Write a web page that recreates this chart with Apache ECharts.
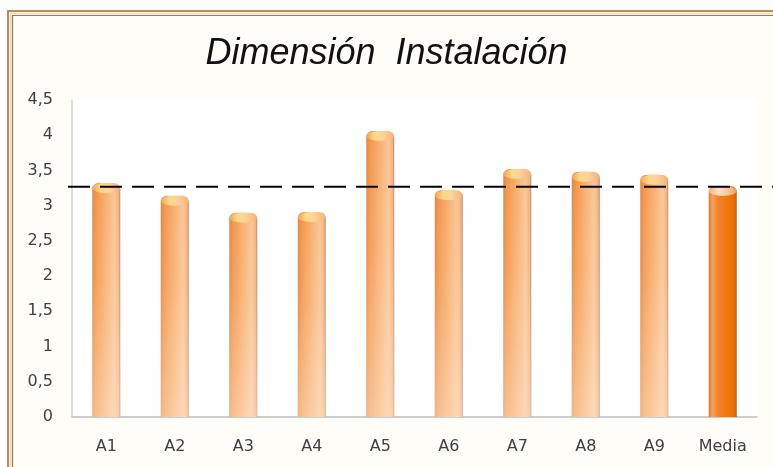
<!DOCTYPE html>
<html>
<head>
<meta charset="utf-8">
<script src="https://cdn.jsdelivr.net/npm/echarts@6/dist/echarts.min.js"></script>
<style>
  html, body { margin: 0; padding: 0; background: #ffffff; }
  #chart { width: 773px; height: 467px; }
</style>
</head>
<body>
<div id="chart"></div>
<script>
// Category labels along the x axis
var categories = ['A1', 'A2', 'A3', 'A4', 'A5', 'A6', 'A7', 'A8', 'A9', 'Media'];
// Scores for each item A1..A9
var itemScores = [3.32, 3.14, 2.90, 2.91, 4.06, 3.22, 3.52, 3.48, 3.44];
// Overall average bar
var mediaScore = 3.28;
// Dashed reference line level
var referenceLevel = 3.27;
// Y axis range and step
var yMin = 0, yMax = 4.5, yStep = 0.5;

var labelFont = 'DejaVu Sans';
var labelColor = '#404040';

function grad(stops, vertical) {
  return new echarts.graphic.LinearGradient(0, 0, vertical ? 0 : 1, vertical ? 1 : 0,
    stops.map(function (s) { return { offset: s[0], color: s[1] }; }));
}

var itemFill = grad([[0, '#d8884a'], [0.12, '#f39448'], [0.45, '#f8ad6c'], [0.8, '#fbc595'], [0.94, '#f0b283'], [1, '#b98357']]);
var mediaFill = grad([[0, '#d97528'], [0.12, '#f7a15c'], [0.35, '#f28226'], [0.75, '#ee7407'], [0.94, '#e06a06'], [1, '#b3571a']]);
var itemCap = grad([[0, '#f0a256'], [0.3, '#ffd98a'], [0.6, '#fcd29a'], [1, '#f2b27a']]);
var mediaCap = grad([[0, '#f4b07a'], [0.35, '#fde0c4'], [0.7, '#f9c69a'], [1, '#e99b5e']]);

var allValues = itemScores.concat([mediaScore]);
var barData = allValues.map(function (v, i) {
  var isMedia = i === allValues.length - 1;
  return { value: v, itemStyle: { color: isMedia ? mediaFill : itemFill } };
});
var shadeData = allValues.map(function (v, i) {
  var isMedia = i === allValues.length - 1;
  return {
    value: v,
    itemStyle: {
      color: isMedia ? 'rgba(255,255,255,0)' :
        grad([[0, 'rgba(255,255,255,0)'], [0.4, 'rgba(255,240,225,0.12)'], [1, 'rgba(255,240,225,0.45)']], true)
    }
  };
});
var capData = allValues.map(function (v, i) {
  var isMedia = i === allValues.length - 1;
  return { value: v, itemStyle: { color: isMedia ? mediaCap : itemCap } };
});

var chart = echarts.init(document.getElementById('chart'), null, { renderer: 'canvas' });

chart.setOption({
  animation: false,
  backgroundColor: '#ffffff',
  graphic: [
    // chart frame: cream panel with a double brown edge
    { type: 'rect', z: -10, shape: { x: 8, y: 11, width: 800, height: 500 },
      style: { fill: '#fffdf8', stroke: '#b98a60', lineWidth: 2 } },
    { type: 'rect', z: -9, shape: { x: 10.5, y: 13.5, width: 800, height: 500 },
      style: { fill: null, stroke: '#f3d9b5', lineWidth: 1.5 } },
    { type: 'rect', z: -9, shape: { x: 12.5, y: 15.5, width: 800, height: 500 },
      style: { fill: null, stroke: '#9c7250', lineWidth: 1.2 } }
  ],
  title: {
    text: 'Dimensión  Instalación',
    left: 'center',
    top: 31,
    textStyle: {
      fontFamily: 'Liberation Sans',
      fontStyle: 'italic',
      fontWeight: 'normal',
      fontSize: 36,
      color: '#111111'
    }
  },
  grid: [
    { left: 72, right: 16, top: 100, bottom: 50, show: true, backgroundColor: '#ffffff', borderWidth: 0 },
    { left: 68, right: 0, top: 100, bottom: 50 }
  ],
  xAxis: [
    {
      type: 'category', gridIndex: 0, data: categories,
      axisLine: { lineStyle: { color: '#bfbfbf', width: 1.5 } },
      axisTick: { show: false },
      axisLabel: { margin: 22, fontFamily: labelFont, fontSize: 16, color: labelColor }
    },
    { type: 'value', gridIndex: 1, min: 0, max: 1, show: false }
  ],
  yAxis: [
    {
      type: 'value', gridIndex: 0, min: yMin, max: yMax, interval: yStep,
      axisLine: { show: true, lineStyle: { color: '#d0d0d0', width: 1.5 } },
      axisTick: { show: false },
      splitLine: { show: false },
      axisLabel: {
        margin: 19, fontFamily: labelFont, fontSize: 16, color: labelColor,
        formatter: function (v) { return String(v).replace('.', ','); }
      }
    },
    { type: 'value', gridIndex: 1, min: yMin, max: yMax, show: false }
  ],
  series: [
    {
      type: 'bar', xAxisIndex: 0, yAxisIndex: 0, data: barData,
      barWidth: 28, barGap: '-100%', z: 2,
      itemStyle: { borderRadius: [6, 6, 0, 0] }
    },
    {
      type: 'bar', xAxisIndex: 0, yAxisIndex: 0, data: shadeData,
      barWidth: 28, barGap: '-100%', z: 3, silent: true,
      itemStyle: { borderRadius: [6, 6, 0, 0] }
    },
    {
      type: 'pictorialBar', xAxisIndex: 0, yAxisIndex: 0, data: capData,
      symbol: 'circle', symbolSize: [28, 10], symbolPosition: 'end',
      z: 4, silent: true
    },
    {
      type: 'line', xAxisIndex: 1, yAxisIndex: 1,
      data: [[0, referenceLevel], [1, referenceLevel]],
      symbol: 'none', z: 10, silent: true,
      lineStyle: { color: '#000000', width: 2, type: [22, 10] }
    }
  ]
});
</script>
</body>
</html>
